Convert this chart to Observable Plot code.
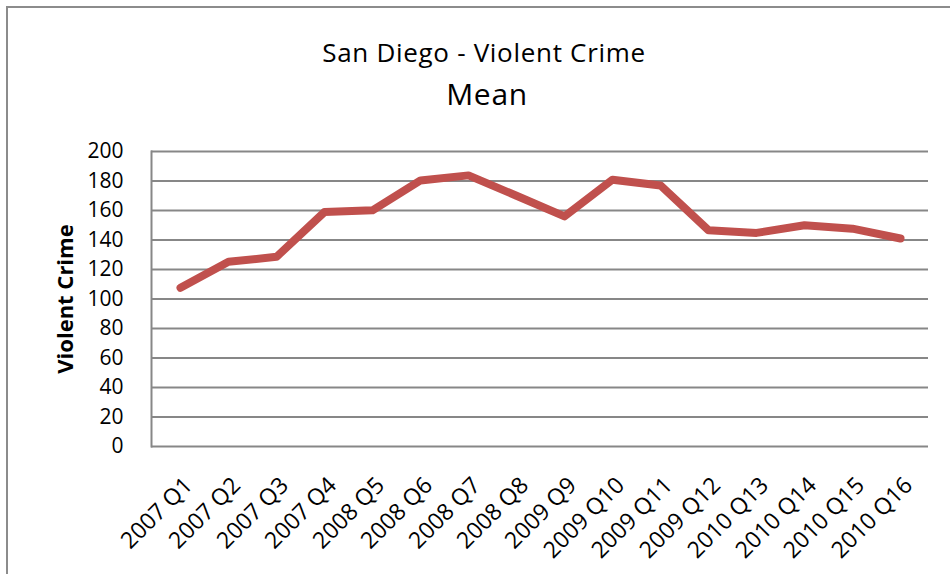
<!DOCTYPE html>
<html><head><meta charset="utf-8">
<script src="https://cdn.jsdelivr.net/npm/d3@7"></script>
<script src="https://cdn.jsdelivr.net/npm/@observablehq/plot@0.6"></script>
<style>
body{margin:0;background:#fff;overflow:hidden;width:950px;height:574px;position:relative}
#frame{position:absolute;left:6px;top:6px;width:980px;height:620px;border:2px solid #8c8c8c;box-sizing:border-box}
#chart{position:absolute;left:0;top:0}
</style></head><body>
<div id="frame"></div><div id="chart"></div>
<script>
const quarters = ["2007 Q1","2007 Q2","2007 Q3","2007 Q4","2008 Q5","2008 Q6","2008 Q7","2008 Q8",
  "2009 Q9","2009 Q10","2009 Q11","2009 Q12","2010 Q13","2010 Q14","2010 Q15","2010 Q16"];
const violentCrime = [107.6,125.2,128.6,159.0,160.1,180.4,183.8,170.0,156.0,180.9,177.0,146.6,144.8,150.0,147.7,141.0];
const yTicks = [0,20,40,60,80,100,120,140,160,180,200];
const titleText = "San Diego - Violent Crime";
const subtitleText = "Mean";
const yLabel = "Violent Crime";

const data = quarters.map((q, i) => ({quarter: q, value: violentCrime[i]}));
const font = "'Open Sans', sans-serif";

const plot = Plot.plot({
  width: 950, height: 574,
  marginLeft: 151, marginRight: 22, marginTop: 151, marginBottom: 128,
  style: {fontFamily: font, background: "transparent", color: "#000", overflow: "visible"},
  x: {type: "band", domain: quarters, padding: 0},
  y: {domain: [0, 200]},
  marks: [
    Plot.gridY(yTicks, {stroke: "#878787", strokeWidth: 2, strokeOpacity: 1}),
    Plot.frame({anchor: "left", stroke: "#878787", strokeWidth: 2}),
    Plot.axisY(yTicks, {tickSize: 0, tickPadding: 28, fontSize: 21, label: null, fill: "#000"}),
    Plot.axisX({tickSize: 0, tickPadding: 35, dx: 8, tickRotate: -45, fontSize: 23, label: null, fill: "#000"}),
    Plot.line(data, {x: "quarter", y: "value", stroke: "#C0504D", strokeWidth: 8, strokeLinejoin: "round", strokeLinecap: "round"}),
    Plot.text([yLabel], {frameAnchor: "left", dx: -86, rotate: -90, fontSize: 22, fontWeight: "bold", fill: "#000", textAnchor: "middle", lineAnchor: "middle"}),
    Plot.text([titleText], {frameAnchor: "top", dx: -56, dy: -98, fontSize: 26, fill: "#000", textAnchor: "middle", lineAnchor: "middle"}),
    Plot.text([subtitleText], {frameAnchor: "top", dx: -53, dy: -56, fontSize: 30, fill: "#000", textAnchor: "middle", lineAnchor: "middle"})
  ]
});
d3.select(plot).selectAll("text")
  .filter(function() { return this.textContent === titleText || this.textContent === subtitleText; })
  .attr("letter-spacing", "0.7px");
document.getElementById("chart").appendChild(plot);
</script>
</body></html>
